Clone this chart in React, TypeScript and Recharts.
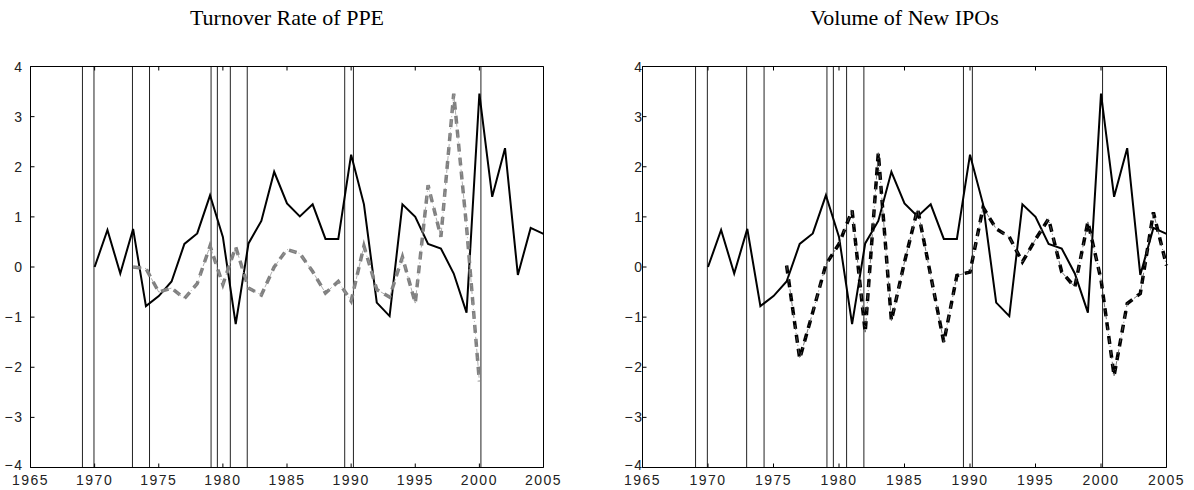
import { LineChart, Line, XAxis, YAxis, ReferenceLine } from 'recharts';

// yearly observations, 1970-2005
const years = [
  1970, 1971, 1972, 1973, 1974, 1975, 1976, 1977, 1978, 1979,
  1980, 1981, 1982, 1983, 1984, 1985, 1986, 1987, 1988, 1989,
  1990, 1991, 1992, 1993, 1994, 1995, 1996, 1997, 1998, 1999,
  2000, 2001, 2002, 2003, 2004, 2005,
];

// solid black series, identical in both panels
const activity = [
  0.0, 0.74, -0.13, 0.76, -0.78, -0.58, -0.29, 0.46, 0.67, 1.43,
  0.6, -1.14, 0.47, 0.92, 1.9, 1.27, 1.01, 1.25, 0.56, 0.56,
  2.24, 1.25, -0.71, -0.98, 1.25, 1.0, 0.46, 0.37, -0.13, -0.91,
  3.46, 1.4, 2.37, -0.16, 0.78, 0.66,
];

// PPE turnover, 1973-2000
const ppeStart = 1973;
const ppeTurnover = [
  0.0, -0.03, -0.5, -0.42, -0.63, -0.33, 0.42, -0.35, 0.4, -0.42,
  -0.56, 0.0, 0.35, 0.27, -0.09, -0.52, -0.29, -0.68, 0.42, -0.45,
  -0.6, 0.2, -0.72, 1.63, 0.6, 3.46, 0.8, -2.28,
];

// new IPO volume, 1976-2005
const ipoStart = 1976;
const ipoVolume = [
  0.03, -1.83, -0.9, 0.05, 0.46, 1.13, -1.3, 2.28, -1.07, 0.1,
  1.16, -0.17, -1.5, -0.17, -0.1, 1.19, 0.76, 0.6, 0.1, 0.55,
  0.96, -0.1, -0.4, 0.9, -0.25, -2.17, -0.73, -0.53, 1.09, 0.03,
];

// vertical marker lines (recession dates)
const recessions = [
  1969.05, 1969.95, 1972.95, 1974.28, 1979.08, 1979.57, 1980.58, 1981.9,
  1989.5, 1990.18, 2000.12,
];

const xTicks = [1965, 1970, 1975, 1980, 1985, 1990, 1995, 2000, 2005];
const yTicks = [-4, -3, -2, -1, 0, 1, 2, 3, 4];

const rows = years.map((year, i) => ({
  year,
  activity: activity[i],
  ppe: year >= ppeStart && year - ppeStart < ppeTurnover.length ? ppeTurnover[year - ppeStart] : null,
  ipo: year >= ipoStart ? ipoVolume[year - ipoStart] : null,
}));

const tickFont = {
  fontFamily: '"Liberation Sans", Arial, sans-serif',
  fontSize: 14,
  letterSpacing: 1.5,
  fill: '#222',
};

const fmt = (v: number) => (v < 0 ? `\u2212${-v}` : `${v}`);

const GAP = 6;
const TICK = 4;

const BottomTick = (props: any) => {
  const { x, y, payload } = props;
  const base = y - GAP;
  return (
    <g>
      <line x1={x} x2={x} y1={base} y2={base - TICK} stroke="#000" />
      <text x={x} y={base + 17.5} textAnchor="middle" style={tickFont}>{payload.value}</text>
    </g>
  );
};

const TopTick = (props: any) => {
  const { x, y } = props;
  const base = y + GAP;
  return <line x1={x} x2={x} y1={base} y2={base + TICK} stroke="#000" />;
};

const makeLeftTick = (labelGap: number) => (props: any) => {
  const { x, y, payload } = props;
  const base = x + GAP;
  // the bottom label sits a little higher so it clears the year labels
  const lift = payload.value === -4 ? -3 : 0;
  return (
    <g>
      <line x1={base} x2={base + TICK} y1={y} y2={y} stroke="#000" />
      <text x={base - labelGap} y={y + lift} dy="0.36em" textAnchor="end" style={tickFont}>{fmt(payload.value)}</text>
    </g>
  );
};

const RightTick = (props: any) => {
  const { x, y } = props;
  const base = x - GAP;
  return <line x1={base} x2={base - TICK} y1={y} y2={y} stroke="#000" />;
};

interface PanelProps {
  title: string;
  left: number;
  width: number;
  plot: { top: number; right: number; bottom: number; left: number };
  labelGap: number;
  dataKey: string;
  color: string;
  thinColor: string;
}

function Panel({ title, left, width, plot, labelGap, dataKey, color, thinColor }: PanelProps) {
  const plotCenter = plot.left + (width - plot.left - plot.right) / 2;
  return (
    <div style={{ position: 'absolute', left, top: 0, width, height: 490 }}>
      <div
        style={{
          position: 'absolute', left: plotCenter - 200, width: 400, top: 5,
          textAlign: 'center', fontFamily: '"Liberation Serif", serif', fontSize: 22, lineHeight: '26px',
        }}
      >
        {title}
      </div>
      <LineChart width={width} height={490} data={rows} margin={{ top: 0, right: 0, bottom: 0, left: 0 }}>
        <XAxis
          dataKey="year" type="number" domain={[1965, 2005]} ticks={xTicks} interval={0}
          height={plot.bottom} tickSize={0} tickMargin={GAP} tick={BottomTick}
          axisLine={{ stroke: '#000' }} tickLine={false}
        />
        <XAxis
          xAxisId="top" orientation="top" dataKey="year" type="number" domain={[1965, 2005]} ticks={xTicks}
          interval={0} height={plot.top} tickSize={0} tickMargin={GAP} tick={TopTick}
          axisLine={{ stroke: '#000' }} tickLine={false}
        />
        <YAxis
          type="number" domain={[-4, 4]} ticks={yTicks} interval={0} width={plot.left}
          tickSize={0} tickMargin={GAP} tick={makeLeftTick(labelGap - GAP)}
          axisLine={{ stroke: '#000' }} tickLine={false}
        />
        <YAxis
          yAxisId="right" orientation="right" type="number" domain={[-4, 4]} ticks={yTicks} interval={0}
          width={plot.right} tickSize={0} tickMargin={GAP} tick={RightTick}
          axisLine={{ stroke: '#000' }} tickLine={false}
        />
        {recessions.map((r) => (
          <ReferenceLine key={r} x={r} stroke="#222" strokeWidth={1} />
        ))}
        <Line type="linear" dataKey="activity" stroke="#000" strokeWidth={2} dot={false} isAnimationActive={false} />
        <Line
          type="linear" dataKey={dataKey} stroke={color} strokeWidth={3.5} strokeDasharray="8 6"
          dot={false} isAnimationActive={false}
        />
        <Line
          type="linear" dataKey={dataKey} stroke={thinColor} strokeWidth={0.8} strokeDasharray="5 3 1 3"
          dot={false} isAnimationActive={false}
        />
      </LineChart>
    </div>
  );
}

export default function App() {
  return (
    <div style={{ position: 'absolute', left: 0, top: 0, width: 1194, height: 490, background: '#fff' }}>
      <Panel
        title="Turnover Rate of PPE" left={0} width={576}
        plot={{ top: 66.5, right: 32.5, bottom: 22.5, left: 30.5 }}
        labelGap={13} dataKey="ppe" color="#808080" thinColor="#9a9a9a"
      />
      <Panel
        title="Volume of New IPOs" left={580} width={614}
        plot={{ top: 66.5, right: 27.5, bottom: 22.5, left: 62.5 }}
        labelGap={5} dataKey="ipo" color="#000" thinColor="#555"
      />
    </div>
  );
}
